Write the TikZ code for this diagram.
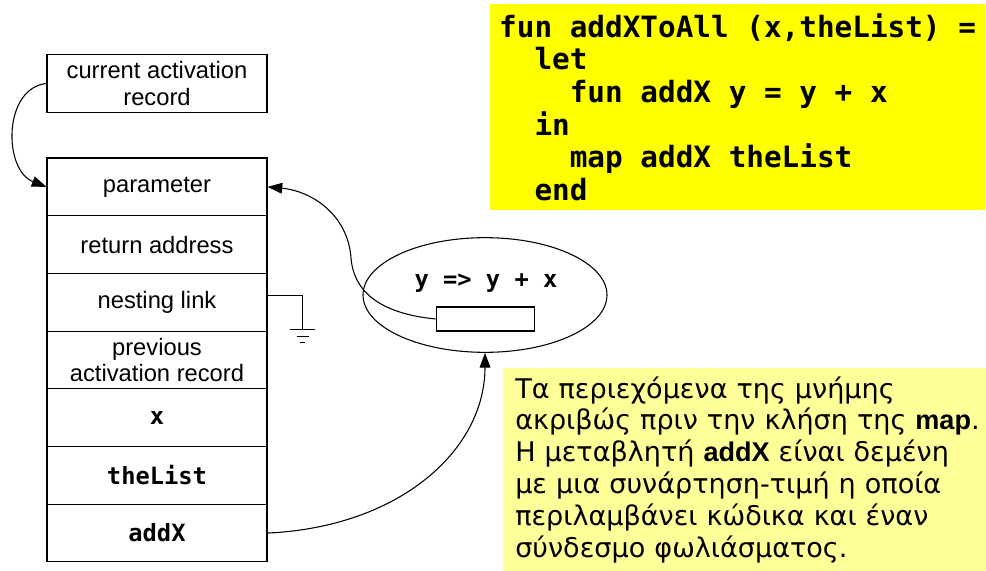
\documentclass[tikz,border=0pt]{standalone}
\usepackage{fontspec}
\setmainfont{Liberation Sans}
\newfontfamily\codefont{DejaVu Sans Mono}
\newfontfamily\notefont{DejaVu Sans}
\usetikzlibrary{arrows.meta,shapes.geometric}
\definecolor{codeyellow}{HTML}{FFFF00}
\definecolor{noteyellow}{HTML}{FFFF99}

\begin{document}
\begin{tikzpicture}[x=0.75pt,y=-0.75pt,
    cell/.style={draw,line width=0.8pt,minimum width=165pt,minimum height=43.3pt,
        inner sep=0pt,align=center,font=\fontsize{17.8}{20}\selectfont},
    codetxt/.style={font=\codefont\bfseries\fontsize{17.8}{20}\selectfont},
    link/.style={line width=0.8pt,-{Triangle[length=11pt,width=8pt]}}]
    \useasboundingbox (0,0) rectangle (986,571);

    \node[cell] (cur) at (157,83.5) {current activation\\record};

    % the activation record, top to bottom
    \foreach \i/\txt in {1/parameter, 2/return address, 3/nesting link,
        4/{previous\\activation record}, 5/{\codefont\bfseries x},
        6/{\codefont\bfseries theList}, 7/{\codefont\bfseries addX}}
        \node[cell] (r\i) at (157,{158+57.7*(\i-0.5)}) {\txt};

    % nesting link goes to ground
    \draw[line width=0.8pt] (r3.east) ++(0,-7) -- ++(35,0) -- ++(0,34) coordinate (gnd);
    \draw[line width=0.8pt] (gnd) ++(-12.5,0) -- ++(25,0)
        (gnd) ++(-6,7) -- ++(12,0)
        (gnd) ++(-2.5,13) -- ++(5,0);

    % the function value
    \node[draw,ellipse,line width=0.8pt,minimum width=183pt,minimum height=86pt,inner sep=0pt] (clos) at (485,295) {};
    \node[codetxt] (body) at (486,283) {y => y + x};
    \node[draw,line width=0.8pt,minimum width=74pt,minimum height=18pt,inner sep=0pt] (envp) at (485.5,319) {};

    \draw[link] (cur.west) .. controls (3,88) and (3,170) .. (r1.west);
    \draw[link] (envp.west) .. controls (385,314) and (354,295) .. (351,258)
        .. controls (348,215) and (312,191) .. (r1.east);
    \draw[link] (r7.east) .. controls (400,527) and (485,450) .. (clos.south);

    \node[fill=codeyellow,anchor=north west,minimum width=371pt,minimum height=154.5pt,
        inner sep=0pt,align=left,
        font=\codefont\bfseries\fontsize{22}{24.5}\selectfont] (code) at (490,4)
        {fun addXToAll (x,theList) =\\
        \phantom{xx}let\\
        \phantom{xxxx}fun addX y = y + x\\
        \phantom{xx}in\\
        \phantom{xxxx}map addX theList\\
        \phantom{xx}end};

    \node[fill=noteyellow,anchor=north west,minimum width=383pt,minimum height=152.25pt,
        text width=365pt,inner xsep=9pt,inner ysep=0pt,align=left,
        font=\notefont\fontsize{20.3}{23.9}\selectfont] (note) at (503,368)
        {Τα περιεχόμενα της μνήμης\\
        ακριβώς πριν την κλήση της {\rmfamily\bfseries map}.\\
        Η μεταβλητή {\rmfamily\bfseries addX} είναι δεμένη\\
        με μια συνάρτηση-τιμή η οποία\\
        περιλαμβάνει κώδικα και έναν\\
        σύνδεσμο φωλιάσματος.};
\end{tikzpicture}
\end{document}
